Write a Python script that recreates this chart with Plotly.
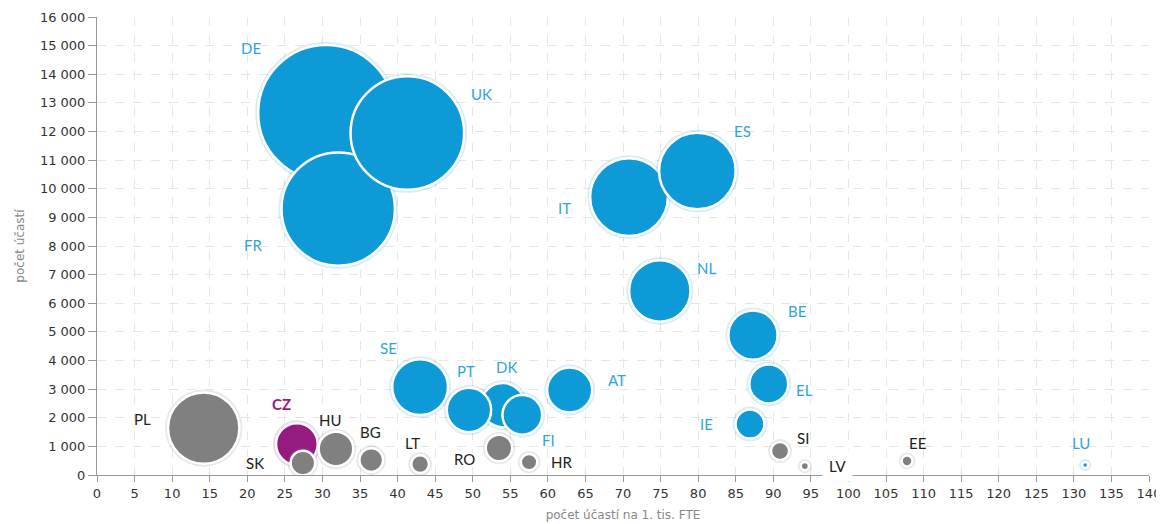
import plotly.graph_objects as go

# ---- data (drawing order) ----
countries = ["DE", "FR", "UK", "IT", "ES", "NL", "BE", "EL", "IE", "SI", "LV", "EE", "LU",
             "SE", "AT", "DK", "PT", "FI", "PL", "CZ", "SK", "HU", "BG", "LT", "RO", "HR"]
per_1k_fte = [30.5, 32.1, 41.3, 70.8, 79.9, 74.9, 87.3, 89.4, 86.9, 90.9, 94.2, 107.8, 131.5,
              43.0, 62.9, 54.0, 49.5, 56.6, 14.2, 26.6, 27.4, 31.8, 36.5, 43.0, 53.5, 57.5]
participations = [12650, 9290, 11950, 9710, 10620, 6430, 4890, 3180, 1780, 840, 310, 490, 350,
                  3070, 2970, 2440, 2270, 2100, 1640, 1080, 420, 910, 520, 380, 940, 450]
fte_thousands = [415, 289, 290, 137, 133, 86, 56, 35.6, 20.5, 9.2, 3.3, 4.5, 2.65,
                 71.5, 47.2, 45.3, 45.9, 37, 115.6, 40.7, 15.3, 28.6, 14.4, 8.9, 17.6, 7.9]
group = ["EU15", "EU15", "EU15", "EU15", "EU15", "EU15", "EU15", "EU15", "EU15", "EU13", "EU13", "EU13", "EU15",
         "EU15", "EU15", "EU15", "EU15", "EU15", "EU13", "CZ", "EU13", "EU13", "EU13", "EU13", "EU13", "EU13"]
x_ticks = list(range(0, 141, 5))
y_ticks = list(range(0, 16001, 1000))

# ---- styles ----
fill = {"EU15": "#0e9ad6", "EU13": "#808080", "CZ": "#951b81"}
halo = {"EU15": "rgba(14,154,214,0.18)", "EU13": "rgba(128,128,128,0.18)", "CZ": "rgba(149,27,129,0.18)"}
label_color = {"EU15": "#2ea5de", "EU13": "#222222", "CZ": "#951b81"}
label_shift = {  # (xshift, yshift) in px
    "DE": (-75, 65), "UK": (74, 39), "FR": (-85, -36), "ES": (45, 40), "IT": (-65, -11),
    "NL": (47, 23), "BE": (44, 24), "EL": (36, -6), "IE": (-43, 0), "SI": (23, 13),
    "LV": (33, 0), "EE": (10, 18), "LU": (-4, 22), "SE": (-32, 39), "PT": (-3, 39),
    "DK": (4, 38), "FI": (26, -25), "AT": (47, 10), "PL": (-61, 9), "CZ": (-15, 40),
    "SK": (-48, 0), "HU": (-5, 29), "BG": (-1, 28), "LT": (-8, 21), "RO": (-35, -11),
    "HR": (32, 0),
}
D_MIN, D_MAX = 6, 136
z_min, z_max = min(fte_thousands), max(fte_thousands)


def diameter(z):
    pos = (z - z_min) / (z_max - z_min)
    return (D_MIN ** 2 + pos * (D_MAX ** 2 - D_MIN ** 2)) ** 0.5


fig = go.Figure()
for c, x, y, z, g in zip(countries, per_1k_fte, participations, fte_thousands, group):
    d = diameter(z)
    fig.add_trace(go.Scatter(x=[x], y=[y], mode="markers", hoverinfo="skip",
                             marker=dict(size=d + 6, color=halo[g], line=dict(width=0))))
    fig.add_trace(go.Scatter(x=[x], y=[y], mode="markers", name=c,
                             marker=dict(size=d, color=fill[g], line=dict(width=2.5, color="white"))))

annotations = []
for c, x, y, g in zip(countries, per_1k_fte, participations, group):
    dx, dy = label_shift[c]
    a = dict(x=x, y=y, xref="x", yref="y", text=c if c != "CZ" else "<b>CZ</b>",
             showarrow=False, xshift=dx, yshift=dy,
             font=dict(family="Lato", size=15, color=label_color[g]))
    if c == "LV":
        a.update(bgcolor="white", borderpad=6)
    annotations.append(a)

fig.update_layout(
    width=1156, height=516,
    margin=dict(l=89, r=15, t=9, b=49),
    paper_bgcolor="white", plot_bgcolor="white",
    showlegend=False,
    separators=", ",
    annotations=annotations,
    font=dict(family="DejaVu Sans", size=13, color="#333333"),
    xaxis=dict(range=[0, 140], tickvals=x_ticks, showgrid=True, gridcolor="#e6e6e6",
               griddash="dash", gridwidth=1, zeroline=False, showline=True, linecolor="#999999",
               ticks="outside", ticklen=6, tickcolor="#999999", automargin=False,
               tickfont=dict(family="DejaVu Sans", size=13, color="#333333"),
               title=dict(text="počet účastí na 1. tis. FTE", standoff=11,
                          font=dict(family="DejaVu Sans", size=12, color="#888888"))),
    yaxis=dict(range=[0, 16000], tickvals=y_ticks, tickformat=",d", showgrid=True,
               gridcolor="#e6e6e6", griddash="dash", gridwidth=1, zeroline=False,
               showline=True, linecolor="#999999", ticks="outside", ticklen=8,
               tickcolor="#999999", automargin=False,
               tickfont=dict(family="DejaVu Sans", size=13, color="#333333"),
               title=dict(text="počet účastí", standoff=12,
                          font=dict(family="DejaVu Sans", size=12, color="#888888"))),
)

fig.write_html("out.html")
